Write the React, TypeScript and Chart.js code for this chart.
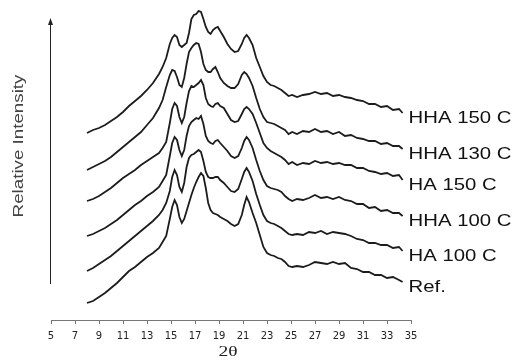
import React, { useEffect, useRef } from "react";
import { Chart, registerables } from "chart.js";

Chart.register(...registerables);

// 2θ sampling positions (degrees)
const twoTheta = [
  8, 8.5, 9, 9.5, 10, 10.5, 11, 11.5, 12, 12.5, 13, 13.5, 14, 14.3, 14.6, 14.9,
  15.1, 15.3, 15.5, 15.7, 15.9, 16.1, 16.3, 16.5, 16.7, 16.9, 17.1, 17.3, 17.5, 17.7, 17.9,
  18.1, 18.3, 18.5, 18.7, 18.9, 19.1, 19.4, 19.7, 20.0, 20.3, 20.6, 20.9, 21.1, 21.3, 21.5,
  21.8, 22.1, 22.4, 22.7, 23.0, 23.3, 23.6, 23.9, 24.2, 24.5, 24.8, 25.1, 25.5, 26.0, 26.5,
  27.0, 27.5, 28.0, 28.5, 29.0, 29.5, 30.0, 30.5, 31.0, 31.5, 32.0, 32.5, 33.0, 33.5, 34.0, 34.3,
];

// relative intensities of each pattern (above its own baseline)
const refIntensity = [
  0, 2, 6, 10, 15, 20, 26, 32, 36, 41, 46, 50, 55, 61, 67, 84,
  96, 103, 98, 86, 80, 84, 92, 100, 108, 115, 121, 126, 130, 127, 115,
  100, 93, 90, 89, 88, 86, 84, 82, 79, 77, 79, 88, 98, 106, 101,
  90, 80, 68, 56, 50, 48, 47, 45, 44, 41, 37, 36, 37, 36, 38,
  41, 40, 39, 41, 39, 40, 35, 34, 31, 31, 28, 28, 25, 26, 23, 21,
];
const ha100Intensity = [
  0, 3, 7, 11, 15, 20, 25, 30, 35, 40, 45, 50, 56, 61, 68, 80,
  94, 101, 96, 84, 79, 88, 104, 113, 116, 117, 119, 121, 119, 110, 99,
  94, 93, 93, 94, 94, 91, 88, 84, 80, 79, 82, 92, 99, 103, 99,
  90, 77, 66, 56, 50, 48, 47, 45, 43, 40, 37, 36, 37, 36, 39,
  38, 40, 37, 39, 38, 37, 35, 32, 31, 28, 28, 26, 26, 23, 24, 20,
];
const hha100Intensity = [
  0, 2, 5, 8, 12, 16, 21, 26, 31, 35, 40, 44, 49, 55, 61, 80,
  93, 99, 96, 86, 80, 86, 100, 110, 114, 116, 118, 117, 120, 112, 100,
  95, 93, 92, 95, 96, 93, 89, 85, 80, 78, 80, 88, 95, 99, 96,
  88, 76, 65, 56, 50, 48, 47, 46, 44, 40, 37, 35, 37, 36, 38,
  41, 38, 39, 37, 39, 36, 35, 32, 32, 28, 29, 25, 26, 23, 23, 20,
];
const ha150Intensity = [
  0, 2, 5, 9, 13, 18, 23, 27, 31, 36, 40, 44, 48, 53, 59, 78,
  92, 98, 95, 84, 78, 84, 98, 110, 115, 114, 116, 118, 121, 116, 103,
  97, 95, 94, 97, 98, 95, 93, 87, 81, 79, 80, 87, 92, 94, 92,
  87, 78, 68, 58, 53, 50, 48, 46, 44, 41, 37, 39, 36, 38, 37,
  40, 38, 39, 37, 38, 36, 36, 33, 33, 30, 29, 27, 28, 25, 26, 21,
];
const hha130Intensity = [
  0, 3, 6, 9, 13, 18, 23, 28, 33, 38, 45, 52, 62, 70, 83, 95,
  100, 99, 93, 85, 83, 92, 106, 118, 122, 125, 127, 126, 118, 106, 100,
  98, 98, 101, 103, 98, 92, 87, 84, 82, 82, 86, 95, 98, 96, 92,
  84, 72, 61, 53, 48, 47, 46, 44, 42, 40, 36, 38, 36, 39, 38,
  41, 38, 39, 36, 38, 34, 35, 32, 31, 29, 29, 26, 27, 24, 24, 21,
];
const hha150Intensity = [
  0, 3, 5, 8, 12, 16, 21, 27, 32, 37, 43, 50, 59, 66, 75, 89,
  95, 98, 96, 88, 86, 88, 90, 100, 114, 118, 119, 122, 121, 114, 106,
  101, 99, 103, 105, 106, 102, 96, 89, 84, 81, 82, 89, 95, 98, 95,
  88, 75, 66, 57, 51, 48, 47, 45, 43, 40, 37, 38, 36, 38, 39,
  41, 39, 40, 37, 38, 36, 35, 33, 32, 29, 29, 26, 27, 23, 24, 20,
];

const seriesNames = ["Ref.", "HA 100 C", "HHA 100 C", "HA 150 C", "HHA 130 C", "HHA 150 C"];
const seriesIntensities = [refIntensity, ha100Intensity, hha100Intensity, ha150Intensity, hha130Intensity, hha150Intensity];
const seriesOffsets = [17, 49, 84, 119, 150, 187];

const xTickValues = [5, 7, 9, 11, 13, 15, 17, 19, 21, 23, 25, 27, 29, 31, 33, 35];
const arrowRange = [36, 300];

const overlay = {
  id: "overlay",
  afterDraw(chart: any) {
    const { ctx, scales } = chart;
    const x = scales.x;
    const y = scales.y;
    ctx.save();
    // intensity arrow
    const ax = Math.round(x.getPixelForValue(5)) - 0.5;
    const yb = y.getPixelForValue(arrowRange[0]);
    const yt = y.getPixelForValue(arrowRange[1]);
    ctx.strokeStyle = "#222";
    ctx.fillStyle = "#222";
    ctx.lineWidth = 1;
    ctx.beginPath();
    ctx.moveTo(ax, yb);
    ctx.lineTo(ax, yt + 4);
    ctx.stroke();
    ctx.beginPath();
    ctx.moveTo(ax, yt - 2);
    ctx.lineTo(ax - 2.5, yt + 5);
    ctx.lineTo(ax + 2.5, yt + 5);
    ctx.closePath();
    ctx.fill();

    // y title
    ctx.save();
    ctx.translate(19, (yb + yt) / 2 - 6);
    ctx.rotate(-Math.PI / 2);
    ctx.scale(1.25, 1);
    ctx.font = '15px Arial, "Liberation Sans", sans-serif';
    ctx.fillStyle = "#444";
    ctx.textAlign = "center";
    ctx.textBaseline = "middle";
    ctx.fillText("Relative Intensity", 0, 0);
    ctx.restore();

    // series labels
    const lastX = twoTheta[twoTheta.length - 1];
    seriesNames.forEach((name, i) => {
      const vals = seriesIntensities[i];
      const px = x.getPixelForValue(lastX) + 6;
      const py = y.getPixelForValue(seriesOffsets[i] + vals[vals.length - 1]) + 6;
      ctx.save();
      ctx.translate(px, py);
      ctx.scale(1.27, 1);
      ctx.font = '16px Arial, "Liberation Sans", sans-serif';
      ctx.fillStyle = "#111";
      ctx.textAlign = "left";
      ctx.textBaseline = "middle";
      ctx.fillText(name, 0, 0);
      ctx.restore();
    });

    // x title
    ctx.save();
    ctx.translate((x.left + x.right) / 2 - 3, 352);
    ctx.scale(1.3, 1);
    ctx.font = '15px "Liberation Serif", "DejaVu Serif", serif';
    ctx.fillStyle = "#222";
    ctx.textAlign = "center";
    ctx.textBaseline = "middle";
    ctx.fillText("2θ", 0, 0);
    ctx.restore();

    ctx.restore();
  },
};

export default function App() {
  const ref = useRef<HTMLCanvasElement | null>(null);
  useEffect(() => {
    if (!ref.current) return;
    const datasets = seriesNames.map((name, i) => ({
      label: name,
      data: twoTheta.map((t, k) => ({ x: t, y: seriesOffsets[i] + seriesIntensities[i][k] })),
      borderColor: "#1c1c1c",
      borderWidth: 1.8,
      pointRadius: 0,
      fill: false,
      tension: 0,
    }));
    const chart = new Chart(ref.current, {
      type: "line",
      data: { datasets },
      options: {
        animation: false,
        responsive: false,
        devicePixelRatio: 1,
        layout: { padding: { left: 51, right: 103, top: 10, bottom: 0 } },
        plugins: { legend: { display: false }, tooltip: { enabled: false } },
        scales: {
          x: {
            type: "linear",
            min: 5,
            max: 35,
            afterBuildTicks: (axis: any) => {
              axis.ticks = xTickValues.map((v) => ({ value: v }));
            },
            afterFit: (axis: any) => {
              axis.height = 40;
            },
            border: { display: true, color: "#777", width: 1 },
            grid: { display: true, drawOnChartArea: false, drawTicks: true, tickLength: 4, color: "#777" },
            ticks: {
              autoSkip: false,
              maxRotation: 0,
              padding: 6,
              color: "#222",
              font: { family: '"DejaVu Sans", sans-serif', size: 10 },
            },
          },
          y: { display: false, min: 0, max: 310 },
        },
      },
      plugins: [overlay],
    });
    return () => chart.destroy();
  }, []);
  return (
    <div style={{ position: "fixed", left: 0, top: 0, width: 514, height: 360, background: "#fff" }}>
      <canvas ref={ref} width={514} height={360} />
    </div>
  );
}
